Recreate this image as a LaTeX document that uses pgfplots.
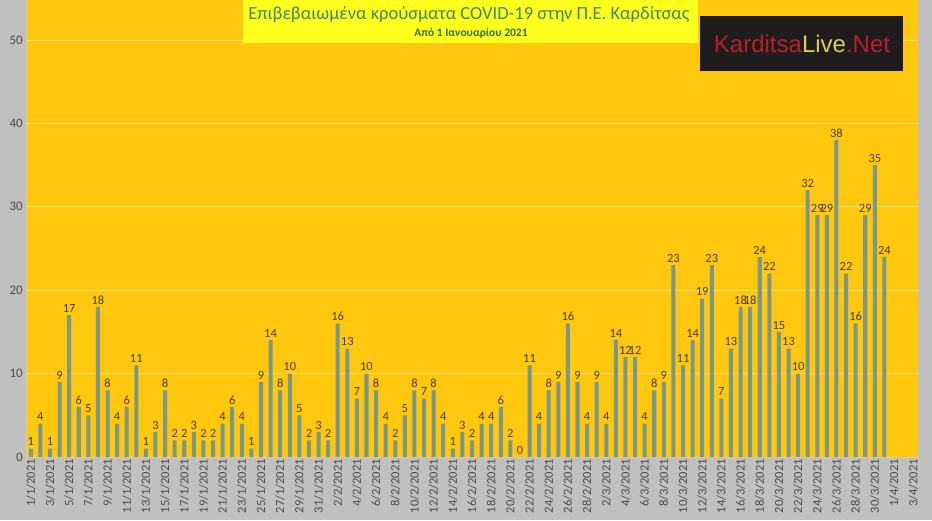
\documentclass[border=0pt]{standalone}
\usepackage{fontspec}
\setmainfont{Carlito}
\newfontfamily\logofont{Liberation Sans}
\usepackage{pgfplots}
\pgfplotsset{compat=1.18}
\definecolor{bgorange}{RGB}{255,200,14}
\definecolor{bggray}{RGB}{192,192,192}
\definecolor{barcol}{RGB}{122,152,136}
\definecolor{gridcol}{RGB}{250,225,120}
\definecolor{labcol}{RGB}{70,62,40}
\definecolor{tickcol}{RGB}{75,75,75}
\definecolor{titlebox}{RGB}{255,255,30}
\definecolor{titlegreen}{RGB}{66,136,108}
\definecolor{subgreen}{RGB}{50,110,70}
\definecolor{logored}{RGB}{190,30,40}
\definecolor{logoyel}{RGB}{222,204,90}
\definecolor{logobg}{RGB}{30,28,28}
\definecolor{axcol}{RGB}{215,205,165}

\pgfplotstableread{
x y
0 1
1 4
2 1
3 9
4 17
5 6
6 5
7 18
8 8
9 4
10 6
11 11
12 1
13 3
14 8
15 2
16 2
17 3
18 2
19 2
20 4
21 6
22 4
23 1
24 9
25 14
26 8
27 10
28 5
29 2
30 3
31 2
32 16
33 13
34 7
35 10
36 8
37 4
38 2
39 5
40 8
41 7
42 8
43 4
44 1
45 3
46 2
47 4
48 4
49 6
50 2
51 0
52 11
53 4
54 8
55 9
56 16
57 9
58 4
59 9
60 4
61 14
62 12
63 12
64 4
65 8
66 9
67 23
68 11
69 14
70 19
71 23
72 7
73 13
74 18
75 18
76 24
77 22
78 15
79 13
80 10
81 32
82 29
83 29
84 38
85 22
86 16
87 29
88 35
89 24
}\cases

\begin{document}
\begin{tikzpicture}[x=1pt,y=1pt]
\fill[bggray] (0,0) rectangle (932,520);
\path[use as bounding box] (0,0) rectangle (932,520);
\begin{axis}[
  at={(26pt,63pt)}, anchor=south west,
  scale only axis, width=892pt, height=457pt,
  xmin=-0.5, xmax=92.5, ymin=0, ymax=54.8,
  axis background/.style={fill=bgorange},
  /pgf/number format/assume math mode=true,
  axis x line*=bottom, axis y line*=left,
  axis line style={draw=axcol, line width=0.6pt, -},
  ytick={0,10,20,30,40,50},
  ymajorgrids, grid style={draw=gridcol, line width=0.8pt},
  major tick length=0pt,
  xtick={0,2,...,92},
  xticklabels={1/1/2021,3/1/2021,5/1/2021,7/1/2021,9/1/2021,11/1/2021,13/1/2021,15/1/2021,17/1/2021,19/1/2021,21/1/2021,23/1/2021,25/1/2021,27/1/2021,29/1/2021,31/1/2021,2/2/2021,4/2/2021,6/2/2021,8/2/2021,10/2/2021,12/2/2021,14/2/2021,16/2/2021,18/2/2021,20/2/2021,22/2/2021,24/2/2021,26/2/2021,28/2/2021,2/3/2021,4/3/2021,6/3/2021,8/3/2021,10/3/2021,12/3/2021,14/3/2021,16/3/2021,18/3/2021,20/3/2021,22/3/2021,24/3/2021,26/3/2021,28/3/2021,30/3/2021,1/4/2021,3/4/2021},
  xticklabel style={rotate=90, anchor=east, font=\fontsize{12.5}{13}\selectfont, text=tickcol, inner sep=2pt},
  yticklabel style={font=\fontsize{13}{14}\selectfont, text=tickcol, inner sep=3pt},
  extra x ticks={-0.5,1.5,...,91.5},
  extra x tick labels={},
  extra x tick style={grid=none, major tick length=4pt, tick style={draw=axcol, line width=0.6pt}, tick pos=bottom, tick align=outside},
  ybar, bar width=0.42, bar shift=0pt,
  nodes near coords,
  every node near coord/.append style={font=\fontsize{12.5}{13}\selectfont, text=labcol, inner sep=2.5pt},
  clip=false,
]
\addplot[fill=barcol, draw=none] table[x=x,y=y] {\cases};
\end{axis}
% title box
\fill[titlebox] (243,477) rectangle (698,520);
\node[font=\fontsize{18.5}{20}\selectfont, text=titlegreen] at (469,505) {Επιβεβαιωμένα κρούσματα COVID-19 στην Π.Ε. Καρδίτσας};
\node[font=\bfseries\fontsize{11.5}{12}\selectfont, text=subgreen] at (471,487) {Από 1 Ιανουαρίου 2021};
% logo
\fill[logobg] (700,449) rectangle (903,504);
\node[font=\logofont\fontsize{24}{26}\selectfont] at (802,476) {\textcolor{logored}{Karditsa}\textcolor{logoyel}{Live}\textcolor{logored}{.Net}};
\end{tikzpicture}
\end{document}
